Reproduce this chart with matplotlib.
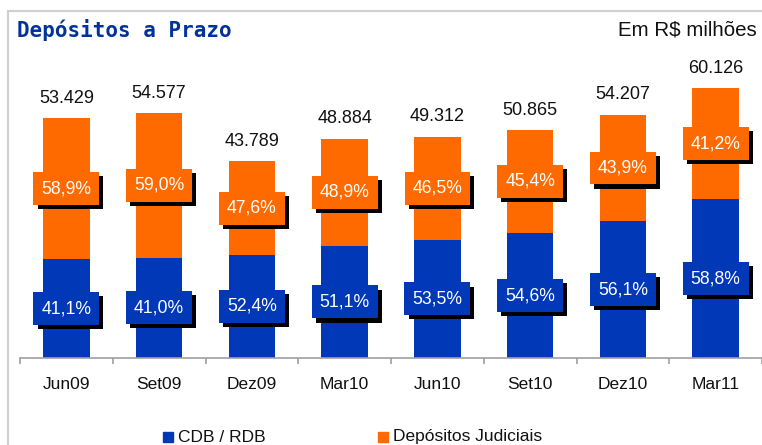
import matplotlib
matplotlib.use("Agg")
import matplotlib.pyplot as plt
import matplotlib.patheffects as pe
from matplotlib.patches import Rectangle
from matplotlib.lines import Line2D
import numpy as np

categories = ["Jun09", "Set09", "Dez09", "Mar10", "Jun10", "Set10", "Dez10", "Mar11"]
totals = [53.429, 54.577, 43.789, 48.884, 49.312, 50.865, 54.207, 60.126]
total_labels = ["53.429", "54.577", "43.789", "48.884", "49.312", "50.865", "54.207", "60.126"]
cdb_pct = [41.1, 41.0, 52.4, 51.1, 53.5, 54.6, 56.1, 58.8]
jud_pct = [58.9, 59.0, 47.6, 48.9, 46.5, 45.4, 43.9, 41.2]

BLUE = "#0038B8"
ORANGE = "#FF6A00"
FONT = "Liberation Sans"

W, H = 762, 445
fig = plt.figure(figsize=(W / 100, H / 100), dpi=100)
fig.patch.set_facecolor("white")

ax = fig.add_axes([20 / W, (H - 358) / H, 742 / W, 314.3 / H])
ax.set_facecolor("none")

x = np.arange(len(categories))
cdb_vals = [t * p / 100 for t, p in zip(totals, cdb_pct)]
jud_vals = [t * p / 100 for t, p in zip(totals, jud_pct)]

ax.bar(x, cdb_vals, width=0.5, color=BLUE, zorder=2)
ax.bar(x, jud_vals, width=0.5, bottom=cdb_vals, color=ORANGE, zorder=2)

ax.set_xlim(-0.5, len(categories) - 0.5)
ax.set_ylim(0, 70)

for s in ["top", "right", "left"]:
    ax.spines[s].set_visible(False)
ax.spines["bottom"].set_color("#A0A0A0")
ax.spines["bottom"].set_linewidth(1.2)
ax.set_yticks([])
ax.set_xticks(x)
ax.set_xticklabels(categories, fontsize=12.5, family=FONT, color="#111111")
ax.tick_params(axis="x", which="major", length=0, pad=14)
ax.set_xticks(np.arange(-0.5, len(categories), 1.0), minor=True)
ax.tick_params(axis="x", which="minor", length=4, color="#A0A0A0", width=1.2)

shadow = [pe.SimplePatchShadow(offset=(3, -3), shadow_rgbFace="black", alpha=1.0), pe.Normal()]

def boxed(xv, yv, txt, fc):
    t = ax.text(xv, yv, txt, ha="center", va="center", color="white", fontsize=12.7,
                family=FONT, zorder=5,
                bbox=dict(boxstyle="square,pad=0.45", fc=fc, ec="none"))
    t.get_bbox_patch().set_path_effects(shadow)

for i in range(len(categories)):
    boxed(x[i], cdb_vals[i] / 2, f"{cdb_pct[i]:.1f}%".replace(".", ","), BLUE)
    boxed(x[i], cdb_vals[i] + jud_vals[i] / 2, f"{jud_pct[i]:.1f}%".replace(".", ","), ORANGE)
    ax.annotate(total_labels[i], (x[i], totals[i]), xytext=(0, 8), textcoords="offset points",
                ha="center", va="bottom", fontsize=13, family=FONT, color="#111111")

# frame
fig.add_artist(Line2D([8 / W, 1], [1 - 11 / H, 1 - 11 / H], color="#D0D0D0", lw=1.5))
fig.add_artist(Line2D([8 / W, 8 / W], [0, 1 - 11 / H], color="#D0D0D0", lw=1.5))

fig.text(17 / W, 1 - 30 / H, "Depósitos a Prazo", ha="left", va="center",
         fontsize=15, family="DejaVu Sans Mono", fontweight="bold", color="#003399")
fig.text(757 / W, 1 - 30 / H, "Em R$ milhões", ha="right", va="center",
         fontsize=14.8, family=FONT, color="#111111")

# legend
ly = 1 - 437 / H
fig.add_artist(Rectangle((163 / W, ly - 5 / H), 10 / W, 10 / H, transform=fig.transFigure,
                         color=BLUE))
fig.text(178 / W, ly, "CDB / RDB", ha="left", va="center", fontsize=12.5, family=FONT,
         color="#111111")
fig.add_artist(Rectangle((378 / W, ly - 5 / H), 10 / W, 10 / H, transform=fig.transFigure,
                         color=ORANGE))
fig.text(393 / W, ly, "Depósitos Judiciais", ha="left", va="center", fontsize=12.5,
         family=FONT, color="#111111")

fig.savefig("out.png", dpi=100)
